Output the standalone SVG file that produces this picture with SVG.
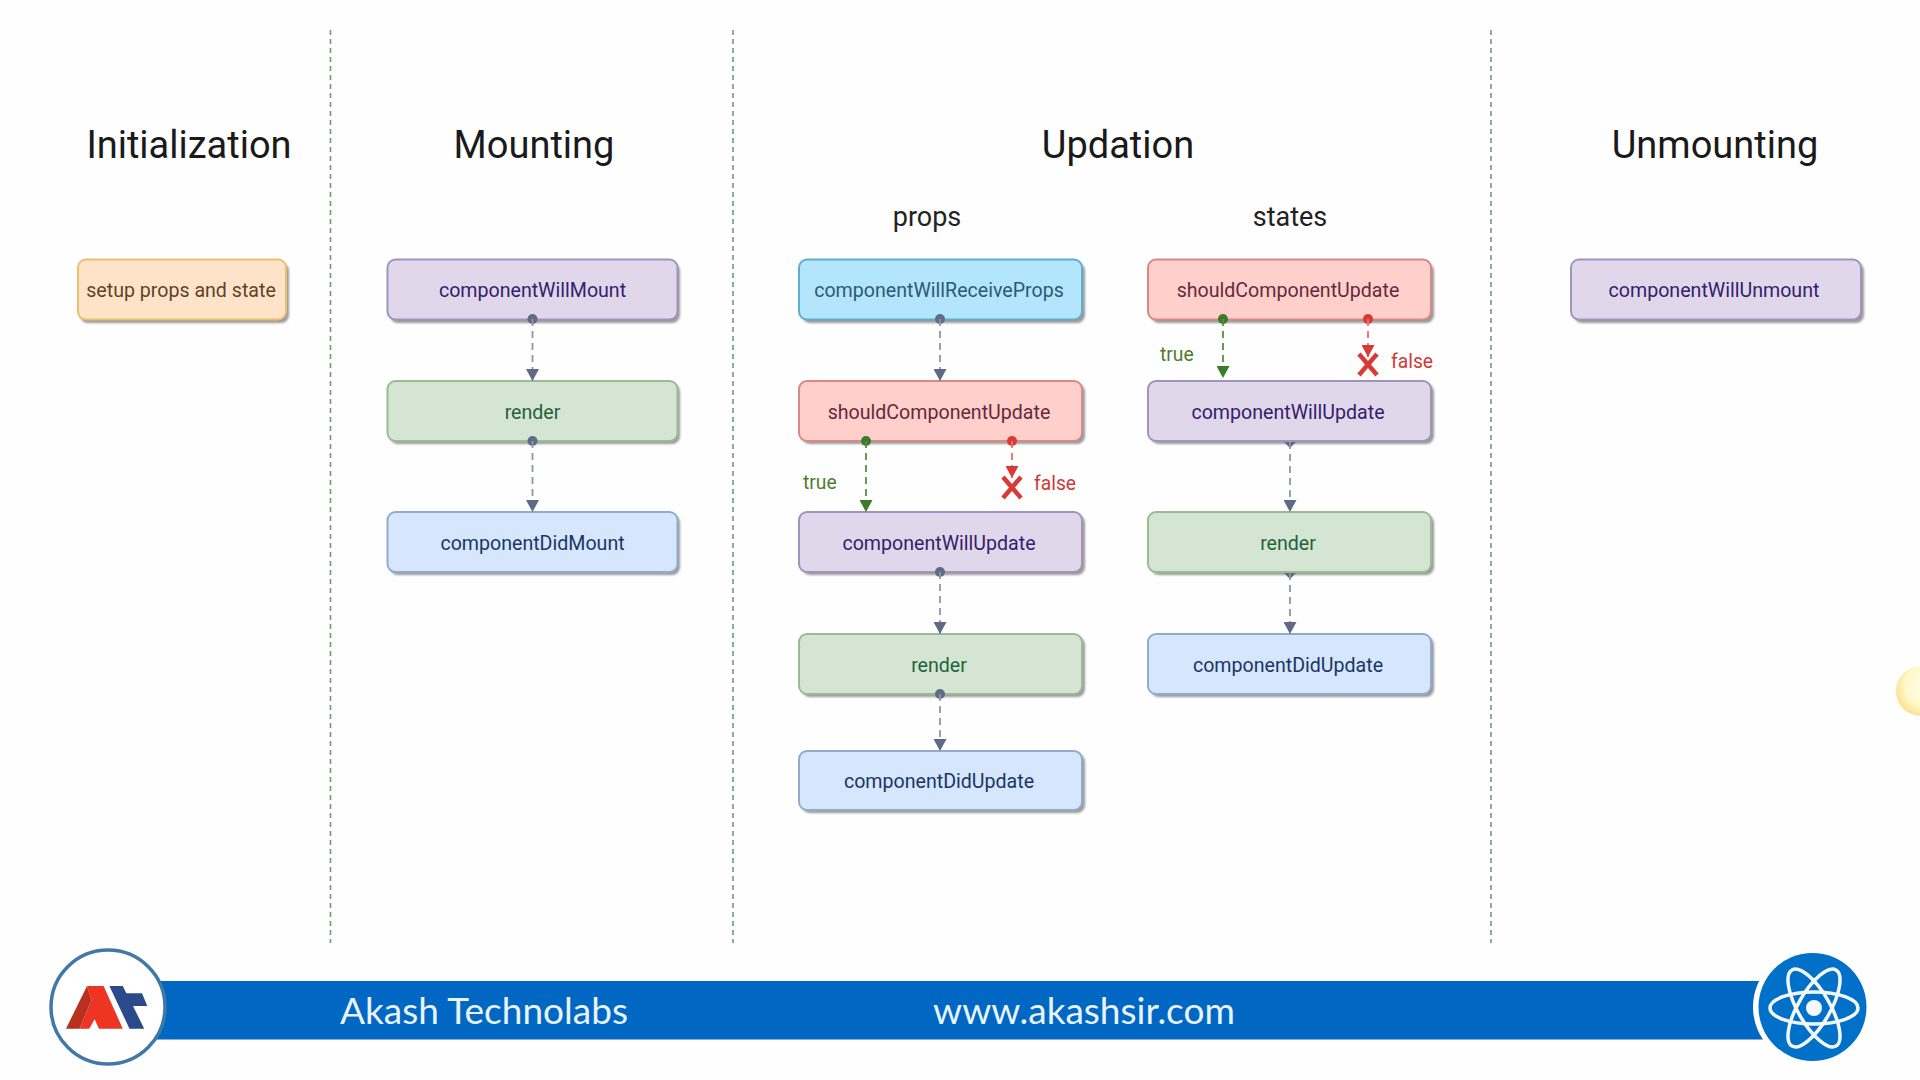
<svg xmlns="http://www.w3.org/2000/svg" width="1920" height="1080" viewBox="0 0 1920 1080">
<style>
text{font-family:Roboto,"Liberation Sans",sans-serif}
.h1{font-size:38px;fill:#1a1a1a;text-anchor:middle}
.h2{font-size:27px;fill:#222;text-anchor:middle}
.t{font-size:19.600px;text-anchor:middle}
.b{stroke-width:2}
.s{fill:#9a9a9a;filter:url(#blur)}
.div{stroke:#6f9a6f;stroke-width:1.600;stroke-dasharray:5 4;fill:none}
.c{stroke:#8e97aa;stroke-width:1.800;stroke-dasharray:7 5;fill:none}
.ct{stroke:#5c8d44;stroke-width:1.800;stroke-dasharray:7 5;fill:none}
.cf{stroke:#e8726c;stroke-width:1.800;stroke-dasharray:7 5;fill:none}
.dg{fill:#5f6b85}.dt{fill:#3d7a2a}.df{fill:#d93a35}
.x{stroke:#d93a35;stroke-width:4.500;fill:none}
.lt{font-size:19.300px;fill:#4f7d30}
.lf{font-size:19.300px;fill:#cf3a36}
.purple{fill:#e1d7ea;stroke:#a193bb}.ptx{fill:#35206c}
.green{fill:#d5e5d3;stroke:#9bbb93}.gtx{fill:#24633a}
.lblue{fill:#d6e6fc;stroke:#93aad0}.btx{fill:#1a3664}
.red{fill:#ffcfcc;stroke:#d68a86}.rtx{fill:#66293a}
.cyan{fill:#b3e5fd;stroke:#62adc9}.ctx{fill:#2d5a73}
.orange{fill:#ffe3c8;stroke:#ebbf70}.otx{fill:#5f4329}
.ban{font-family:Lato,"Open Sans",sans-serif;font-size:37px;fill:#e9f3fb;text-anchor:middle}
</style>
<defs>
<filter id="blur" x="-5%" y="-10%" width="110%" height="120%"><feGaussianBlur stdDeviation="1.200"/></filter>
<marker id="ag" markerUnits="userSpaceOnUse" markerWidth="13" markerHeight="13" refX="12" refY="6.500" orient="auto"><path d="M0 0L12 6.500L0 13Z" fill="#5f6b85"/></marker>
<marker id="at" markerUnits="userSpaceOnUse" markerWidth="13" markerHeight="13" refX="12" refY="6.500" orient="auto"><path d="M0 0L12 6.500L0 13Z" fill="#3d7a2a"/></marker>
<marker id="af" markerUnits="userSpaceOnUse" markerWidth="13" markerHeight="13" refX="12" refY="6.500" orient="auto"><path d="M0 0L12 6.500L0 13Z" fill="#d93a35"/></marker>
<radialGradient id="sun" cx="0.6" cy="0.4" r="0.7"><stop offset="0" stop-color="#fffff0"/><stop offset="0.6" stop-color="#fff8c8"/><stop offset="1" stop-color="#fbd980"/></radialGradient>
</defs>
<rect width="1920" height="1080" fill="#fefefe"/>

<g id="dividers">
<path class="div" d="M330.500 30V943"/><path class="div" d="M733 30V943"/><path class="div" d="M1491 30V943"/>
</g>

<g id="headings">
<text class="h1" x="189" y="158">Initialization</text>
<text class="h1" x="534" y="158">Mounting</text>
<text class="h1" x="1118" y="158">Updation</text>
<text class="h1" x="1715" y="158">Unmounting</text>
<text class="h2" x="927" y="226">props</text>
<text class="h2" x="1290" y="226">states</text>
</g>

<g id="n-setup"><rect class="s" x="80" y="263" width="209" height="60" rx="8"/><rect class="b orange" x="78" y="259.500" width="208" height="60" rx="8"/><text class="t otx" x="181" y="297">setup props and state</text></g>

<g id="n-willmount"><rect class="s" x="390" y="263" width="290" height="60" rx="8"/><rect class="b purple" x="387.500" y="259.500" width="290" height="60" rx="8"/><text class="t ptx" x="532.500" y="297">componentWillMount</text></g>
<g id="n-render1"><rect class="s" x="390" y="384" width="290" height="60" rx="8"/><rect class="b green" x="387.500" y="381" width="290" height="60" rx="8"/><text class="t gtx" x="532.500" y="419">render</text></g>
<g id="n-didmount"><rect class="s" x="390" y="515" width="290" height="60" rx="8"/><rect class="b lblue" x="387.500" y="512" width="290" height="60" rx="8"/><text class="t btx" x="532.500" y="550">componentDidMount</text></g>

<g id="n-receiveprops"><rect class="s" x="802" y="263" width="283" height="60" rx="8"/><rect class="b cyan" x="799" y="259.500" width="283" height="60" rx="8"/><text class="t ctx" x="939" y="297">componentWillReceiveProps</text></g>
<g id="n-should1"><rect class="s" x="802" y="384" width="283" height="60" rx="8"/><rect class="b red" x="799" y="381" width="283" height="60" rx="8"/><text class="t rtx" x="939" y="419">shouldComponentUpdate</text></g>
<g id="n-willupdate1"><rect class="s" x="802" y="515" width="283" height="60" rx="8"/><rect class="b purple" x="799" y="512" width="283" height="60" rx="8"/><text class="t ptx" x="939" y="550">componentWillUpdate</text></g>
<g id="n-render2"><rect class="s" x="802" y="637" width="283" height="60" rx="8"/><rect class="b green" x="799" y="634" width="283" height="60" rx="8"/><text class="t gtx" x="939" y="672">render</text></g>
<g id="n-didupdate1"><rect class="s" x="802" y="754" width="283" height="59" rx="8"/><rect class="b lblue" x="799" y="751" width="283" height="59" rx="8"/><text class="t btx" x="939" y="788">componentDidUpdate</text></g>

<g id="n-should2"><rect class="s" x="1151" y="263" width="283" height="60" rx="8"/><rect class="b red" x="1148" y="259.500" width="283" height="60" rx="8"/><text class="t rtx" x="1288" y="297">shouldComponentUpdate</text></g>
<g id="n-willupdate2"><rect class="s" x="1151" y="384" width="283" height="60" rx="8"/><rect class="b purple" x="1148" y="381" width="283" height="60" rx="8"/><text class="t ptx" x="1288" y="419">componentWillUpdate</text></g>
<g id="n-render3"><rect class="s" x="1151" y="515" width="283" height="60" rx="8"/><rect class="b green" x="1148" y="512" width="283" height="60" rx="8"/><text class="t gtx" x="1288" y="550">render</text></g>
<g id="n-didupdate2"><rect class="s" x="1151" y="637" width="283" height="60" rx="8"/><rect class="b lblue" x="1148" y="634" width="283" height="60" rx="8"/><text class="t btx" x="1288" y="672">componentDidUpdate</text></g>

<g id="n-willunmount"><rect class="s" x="1574" y="263" width="290" height="60" rx="8"/><rect class="b purple" x="1571" y="259.500" width="290" height="60" rx="8"/><text class="t ptx" x="1714" y="297">componentWillUnmount</text></g>

<g id="connectors">
<circle class="dg" cx="532.500" cy="319" r="5"/><path class="c" d="M532.500 319V381" marker-end="url(#ag)"/>
<circle class="dg" cx="532.500" cy="441" r="5"/><path class="c" d="M532.500 441V512" marker-end="url(#ag)"/>
<circle class="dg" cx="940" cy="319" r="5"/><path class="c" d="M940 319V381" marker-end="url(#ag)"/>
<circle class="dt" cx="866" cy="441" r="5"/><path class="ct" d="M866 441V512" marker-end="url(#at)"/>
<circle class="df" cx="1012" cy="441" r="5"/><path class="cf" d="M1012 441V478" marker-end="url(#af)"/>
<path class="x" d="M1003 477L1021 498M1021 477L1003 498"/>
<circle class="dg" cx="940" cy="572" r="5"/><path class="c" d="M940 572V634" marker-end="url(#ag)"/>
<circle class="dg" cx="940" cy="694" r="5"/><path class="c" d="M940 694V751" marker-end="url(#ag)"/>
<circle class="dt" cx="1223" cy="319" r="5"/><path class="ct" d="M1223 319V378" marker-end="url(#at)"/>
<circle class="df" cx="1368" cy="319" r="5"/><path class="cf" d="M1368 319V357" marker-end="url(#af)"/>
<path class="x" d="M1359 354L1377 375M1377 354L1359 375"/>
<path class="dg" d="M1284 442H1296L1290 448Z"/><path class="c" d="M1290 442V512" marker-end="url(#ag)"/>
<path class="dg" d="M1284 573H1296L1290 579Z"/><path class="c" d="M1290 573V634" marker-end="url(#ag)"/>
<text class="lt" x="803" y="489">true</text>
<text class="lf" x="1034" y="490">false</text>
<text class="lt" x="1160" y="361">true</text>
<text class="lf" x="1391" y="368">false</text>
</g>

<g id="banner">
<rect x="150" y="981" width="1625" height="58.500" fill="#0067c2"/>
<text class="ban" x="484" y="1024">Akash Technolabs</text>
<text class="ban" x="1084" y="1024">www.akashsir.com</text>
</g>

<g id="logo-at">
<circle cx="108" cy="1007" r="57" fill="#fff" stroke="#4278a8" stroke-width="3.500"/>
<path d="M109.400 986H122.800L126.300 993.300H142L147.300 1006H133L144.200 1028.700H129.500Z" fill="#2a4a8c"/>
<path d="M87 986H103.600L122.800 1028.700H99L94.600 1019.300L89.300 1028.700H79.500L91.500 1000Z" fill="#ee3524"/>
<path d="M66 1028.700L87 986L91.500 1000L79.500 1028.700Z" fill="#b9301f"/>
</g>

<g id="logo-react">
<circle cx="1811" cy="1007" r="58" fill="#fff"/>
<circle cx="1812.500" cy="1007" r="54" fill="#0070c8"/>
<g fill="none" stroke="#f2f8fd" stroke-width="3.500">
<ellipse cx="1814" cy="1008" rx="44" ry="16"/>
<ellipse cx="1814" cy="1008" rx="44" ry="16" transform="rotate(60 1814 1008)"/>
<ellipse cx="1814" cy="1008" rx="44" ry="16" transform="rotate(120 1814 1008)"/>
</g>
<circle cx="1814" cy="1008" r="8" fill="#f2f8fd"/>
</g>

<g id="cursor"><circle cx="1921" cy="691" r="25" fill="url(#sun)"/></g>
</svg>
